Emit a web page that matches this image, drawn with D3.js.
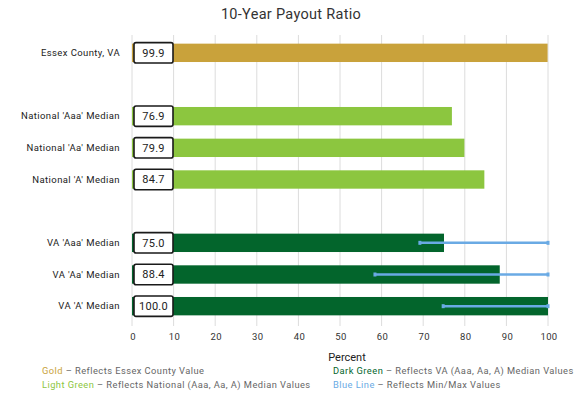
<!DOCTYPE html>
<html lang="en">
<head>
<meta charset="UTF-8">
<title>10-Year Payout Ratio</title>
<script src="https://d3js.org/d3.v7.min.js"></script>
<style>
  body { margin: 0; background: #fff; }
  text { font-family: Roboto, "Noto Sans", sans-serif; }
</style>
</head>
<body>
<script>
// Data
const categories = ["Essex County, VA", "", "National 'Aaa' Median", "National 'Aa' Median", "National 'A' Median", " ", "VA 'Aaa' Median", "VA 'Aa' Median", "VA 'A' Median"];
const values = [99.9, null, 76.9, 79.9, 84.7, null, 75.0, 88.4, 100.0];
const groups = ["gold", null, "light", "light", "light", null, "dark", "dark", "dark"];
const minVals = [null, null, null, null, null, null, 69.2, 58.4, 74.8];
const maxVals = [null, null, null, null, null, null, 100, 100, 100];
const ticks = [0, 10, 20, 30, 40, 50, 60, 70, 80, 90, 100];

const colors = { gold: "#c9a23b", light: "#8cc63f", dark: "#03652c", blue: "#6aaae4" };

const width = 583, height = 395;
const svg = d3.select("body").append("svg").attr("width", width).attr("height", height);

const x = d3.scaleLinear().domain([0, 100]).range([132, 548]);
const y = d3.scaleBand().domain(categories).range([37, 322]).paddingInner(0.42).paddingOuter(0.21);

// Title
svg.append("text").attr("x", 291).attr("y", 19).attr("text-anchor", "middle")
  .attr("font-size", 14.5).attr("fill", "#333").attr("letter-spacing", 0.3).text("10-Year Payout Ratio");

// Grid lines
svg.append("g").selectAll("line").data(ticks).join("line")
  .attr("x1", d => x(d)).attr("x2", d => x(d))
  .attr("y1", 35).attr("y2", 326)
  .attr("stroke", "#dcdcdc").attr("stroke-width", 1);

// Tick labels
svg.append("g").selectAll("text").data(ticks).join("text")
  .attr("x", d => x(d) + 1).attr("y", 340).attr("text-anchor", "middle")
  .attr("font-size", 9.5).attr("letter-spacing", 0.4).attr("fill", "#333").text(d => d);

svg.append("text").attr("x", 347).attr("y", 361).attr("text-anchor", "middle")
  .attr("font-size", 11).attr("fill", "#222").text("Percent");

const rows = categories.map((c, i) => ({ c, v: values[i], g: groups[i], mn: minVals[i], mx: maxVals[i] }))
  .filter(d => d.v !== null);

// Bars
svg.append("g").selectAll("rect").data(rows).join("rect")
  .attr("x", x(0)).attr("y", d => y(d.c))
  .attr("width", d => x(d.v) - x(0)).attr("height", y.bandwidth())
  .attr("fill", d => colors[d.g]);

// Min/max lines
const err = rows.filter(d => d.mn !== null);
const eg = svg.append("g");
eg.selectAll("line").data(err).join("line")
  .attr("x1", d => x(d.mn)).attr("x2", d => x(d.mx))
  .attr("y1", d => y(d.c) + y.bandwidth() / 2).attr("y2", d => y(d.c) + y.bandwidth() / 2)
  .attr("stroke", colors.blue).attr("stroke-width", 2.5);
eg.selectAll("rect.cap").data(err.flatMap(d => [{ c: d.c, v: d.mn }, { c: d.c, v: d.mx }])).join("rect")
  .attr("class", "cap")
  .attr("x", d => x(d.v) - 1.5).attr("y", d => y(d.c) + y.bandwidth() / 2 - 2)
  .attr("width", 3).attr("height", 4).attr("fill", colors.blue);

// Value boxes
const vb = svg.append("g").selectAll("g").data(rows).join("g")
  .attr("transform", d => `translate(${x(0) + 2},${y(d.c) - 1})`);
vb.append("rect").attr("width", 39).attr("height", y.bandwidth() + 2).attr("rx", 2)
  .attr("fill", "#fff").attr("stroke", "#1a1a1a").attr("stroke-width", 1.6);
vb.append("text").attr("x", 19.5).attr("y", (y.bandwidth() + 2) / 2 + 4)
  .attr("text-anchor", "middle").attr("font-size", 11).attr("letter-spacing", 0.3).attr("fill", "#222")
  .text(d => d.v.toFixed(1));

// Category labels
svg.append("g").selectAll("text").data(rows).join("text")
  .attr("x", 120).attr("y", d => y(d.c) + y.bandwidth() / 2 + 3)
  .attr("text-anchor", "end").attr("font-size", 9.5).attr("letter-spacing", 0.4).attr("fill", "#222")
  .text(d => d.c);

// Legend
const legend = [
  { k: "Gold", col: colors.gold, t: " \u2013 Reflects Essex County Value", x: 42, y: 374 },
  { k: "Light Green", col: colors.light, t: " \u2013 Reflects National (Aaa, Aa, A) Median Values", x: 42, y: 388 },
  { k: "Dark Green", col: colors.dark, t: " \u2013 Reflects VA (Aaa, Aa, A) Median Values", x: 333, y: 374 },
  { k: "Blue Line", col: colors.blue, t: " \u2013 Reflects Min/Max Values", x: 333, y: 388 }
];
const lt = svg.append("g").selectAll("text").data(legend).join("text")
  .attr("x", d => d.x).attr("y", d => d.y).attr("font-size", 9.3).attr("letter-spacing", 0.45);
lt.append("tspan").attr("fill", d => d.col).text(d => d.k);
lt.append("tspan").attr("fill", "#666").text(d => d.t);
</script>
</body>
</html>
